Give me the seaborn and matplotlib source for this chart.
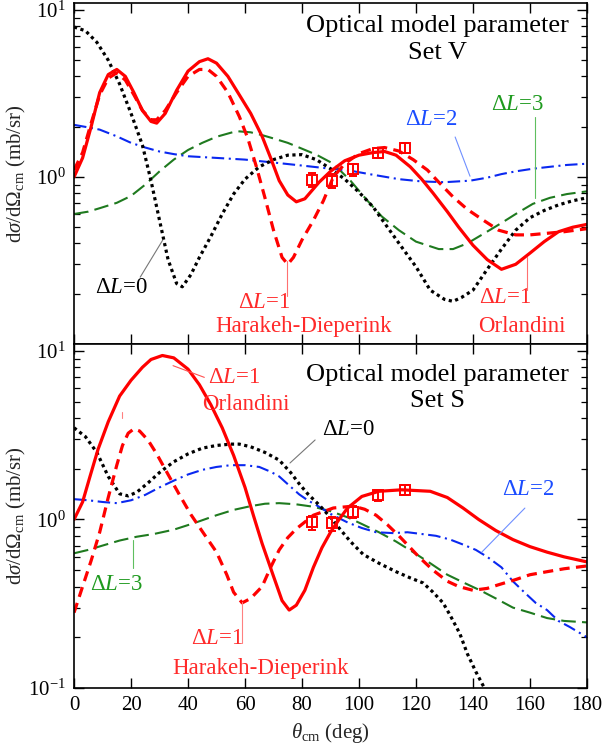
import numpy as np
import pandas as pd
import matplotlib
matplotlib.use("Agg")
import matplotlib.pyplot as plt
import matplotlib.ticker as mticker
import seaborn as sns

# ---------------- data ----------------
# Top panel: optical model parameter Set V
v_dl0_x = [0, 4, 8, 12, 16, 20, 24, 27, 30, 33, 36, 38, 41, 44, 48, 52, 56, 60, 65, 70, 75, 80, 85,
           90, 95, 100, 105, 110, 115, 120, 125, 130, 133, 136, 140, 145, 150, 155, 160, 165, 170, 175, 180]
v_dl0_y = [7.9, 7.5, 6.4, 5.0, 3.6, 2.4, 1.55, 0.95, 0.55, 0.32, 0.23, 0.22, 0.26, 0.33, 0.44, 0.6, 0.79, 0.97,
           1.15, 1.27, 1.35, 1.36, 1.27, 1.12, 0.97, 0.81, 0.66, 0.5, 0.38, 0.29, 0.21, 0.185, 0.18, 0.19,
           0.21, 0.28, 0.37, 0.48, 0.57, 0.63, 0.68, 0.72, 0.75]

v_orl_x = [0, 3, 6, 9, 12, 15, 18, 21, 24, 27, 29, 32, 36, 40, 44, 47, 50, 54, 58, 62, 66, 69, 72, 75, 78,
           81, 86, 90, 95, 100, 105, 109, 113, 118, 122, 126, 131, 135, 140, 145, 150, 155, 160, 165, 170, 175, 180]
v_orl_y = [1.0, 1.3, 2.0, 3.2, 4.1, 4.4, 4.0, 3.2, 2.5, 2.15, 2.1, 2.4, 3.3, 4.3, 4.9, 5.1, 4.8, 4.0, 3.1,
           2.4, 1.75, 1.3, 0.95, 0.78, 0.71, 0.74, 0.93, 1.08, 1.25, 1.35, 1.4, 1.42, 1.35, 1.15, 0.97, 0.8,
           0.62, 0.5, 0.39, 0.32, 0.28, 0.3, 0.35, 0.41, 0.47, 0.5, 0.52]

v_hd_x = [0, 3, 6, 9, 12, 15, 18, 21, 24, 27, 29, 32, 36, 40, 44, 47, 50, 54, 58, 61, 64, 67, 70, 73, 75,
          77, 80, 84, 87.5, 91, 95, 100, 105, 109, 114, 119, 124, 128, 133, 138, 143, 149, 155, 160, 166, 172, 180]
v_hd_y = [1.1, 1.4, 2.1, 3.1, 3.9, 4.2, 3.8, 3.1, 2.5, 2.2, 2.2, 2.5, 3.2, 4.0, 4.4, 4.4, 4.0, 3.2, 2.3,
          1.7, 1.15, 0.75, 0.48, 0.33, 0.3, 0.33, 0.42, 0.55, 0.72, 1.0, 1.2, 1.38, 1.48, 1.5, 1.43, 1.27,
          1.1, 0.93, 0.76, 0.64, 0.56, 0.48, 0.45, 0.45, 0.46, 0.47, 0.49]

v_dl2_x = [0, 5, 9, 15, 20, 25, 30, 35, 40, 50, 60, 70, 80, 90, 97, 105, 114, 122, 130, 139, 145, 150,
           155, 161, 167, 173, 180]
v_dl2_y = [2.05, 1.98, 1.92, 1.75, 1.6, 1.5, 1.42, 1.37, 1.33, 1.3, 1.27, 1.22, 1.17, 1.12, 1.09, 1.03,
           0.97, 0.94, 0.93, 0.95, 0.99, 1.04, 1.08, 1.12, 1.15, 1.18, 1.2]

v_dl3_x = [0, 5, 9, 15, 20, 25, 30, 35, 40, 45, 50, 57, 62, 66, 70, 75, 79, 85, 91, 97, 103, 108, 114,
           120, 128, 133, 138, 144, 150, 155, 161, 167, 173, 180]
v_dl3_y = [0.6, 0.62, 0.65, 0.7, 0.77, 0.9, 1.08, 1.27, 1.45, 1.6, 1.74, 1.88, 1.85, 1.78, 1.7, 1.6, 1.5,
           1.36, 1.2, 0.95, 0.72, 0.58, 0.48, 0.41, 0.37, 0.37, 0.4, 0.46, 0.53, 0.6, 0.69, 0.75, 0.79, 0.82]

# Bottom panel: optical model parameter Set S
s_dl0_x = [0, 4, 8, 12, 16, 19, 22, 26, 30, 35, 40, 45, 50, 55, 58, 62, 67, 72, 76, 79, 82, 86, 90, 93,
           97, 101.5, 107, 113, 118, 122.5, 126, 129.5, 132, 135.4, 138, 141, 144, 146]
s_dl0_y = [3.5, 3.1, 2.5, 1.8, 1.42, 1.38, 1.45, 1.65, 1.9, 2.2, 2.45, 2.65, 2.75, 2.8, 2.8, 2.7, 2.5,
           2.25, 1.9, 1.63, 1.42, 1.22, 1.03, 0.89, 0.74, 0.62, 0.55, 0.49, 0.45, 0.42, 0.37, 0.32, 0.27,
           0.21, 0.16, 0.125, 0.1, 0.085]

s_orl_x = [0, 3, 5.6, 8.4, 12, 16, 20, 24, 27, 31, 35, 40, 44, 48, 52, 56, 60, 63, 66, 70, 73, 75.5, 78,
           81, 84, 87, 90, 93, 96, 101, 107, 115, 125, 131, 136.5, 142, 148, 154, 160, 166, 172, 180]
s_orl_y = [1.0, 1.27, 1.8, 2.6, 3.8, 5.4, 6.7, 8.0, 8.9, 9.4, 9.1, 7.8, 6.3, 4.8, 3.5, 2.4, 1.55, 1.05,
           0.72, 0.46, 0.33, 0.29, 0.31, 0.38, 0.52, 0.68, 0.84, 1.0, 1.17, 1.37, 1.47, 1.5, 1.47, 1.35,
           1.17, 1.0, 0.86, 0.76, 0.69, 0.64, 0.6, 0.56]

s_hd_x = [0, 3, 6, 9, 12, 15, 17, 19, 21, 23, 26, 29, 33, 37, 41, 45, 50, 53.6, 56, 59, 62, 66, 69, 72,
          75, 78, 84, 91, 98, 102, 106, 110, 114, 118, 121, 126, 131, 135, 140, 145, 149, 155, 160, 166,
          172, 180]
s_hd_y = [0.28, 0.4, 0.57, 0.84, 1.35, 2.1, 2.75, 3.25, 3.45, 3.35, 2.95, 2.45, 1.85, 1.4, 1.07, 0.85,
          0.64, 0.47, 0.37, 0.32, 0.34, 0.4, 0.52, 0.66, 0.78, 0.88, 1.06, 1.17, 1.2, 1.15, 1.06, 0.93,
          0.8, 0.68, 0.6, 0.5, 0.43, 0.4, 0.38, 0.39, 0.41, 0.44, 0.47, 0.49, 0.51, 0.53]

s_dl2_x = [0, 5, 10, 15, 20, 25, 30, 35, 40, 45, 50, 55, 60, 65, 69, 72, 75, 79, 82, 86, 90, 96, 101, 106,
           112, 117, 122, 127, 132, 136.5, 141, 145, 150, 154, 158, 162, 166, 170, 174, 180]
s_dl2_y = [1.32, 1.3, 1.27, 1.25, 1.3, 1.4, 1.55, 1.7, 1.85, 1.97, 2.05, 2.1, 2.1, 2.05, 1.92, 1.8, 1.62,
           1.41, 1.3, 1.19, 1.08, 0.96, 0.89, 0.84, 0.83, 0.84, 0.82, 0.8, 0.76, 0.71, 0.66, 0.6, 0.52,
           0.43, 0.37, 0.32, 0.29, 0.25, 0.23, 0.2]

s_dl3_x = [0, 5, 10, 16, 22, 28, 35, 42, 50, 56, 62, 67, 72, 78, 84, 90, 96, 101, 107, 113, 119, 125, 131,
           137, 142.5, 148, 154, 160, 166, 172, 180]
s_dl3_y = [0.63, 0.66, 0.7, 0.75, 0.79, 0.82, 0.87, 0.95, 1.06, 1.14, 1.2, 1.24, 1.25, 1.23, 1.19, 1.12,
           1.03, 0.94, 0.84, 0.74, 0.64, 0.55, 0.47, 0.42, 0.38, 0.34, 0.3, 0.28, 0.26, 0.25, 0.245]

# Experimental points (same in both panels)
exp_x = [83.5, 90.5, 98, 106.5, 116]
exp_y = [0.96, 0.95, 1.11, 1.39, 1.5]
exp_err = [0.09, 0.09, 0.09, 0.1, 0.1]

x_ticks = [0, 20, 40, 60, 80, 100, 120, 140, 160, 180]

# ---------------- style ----------------
sns.set_theme(style="ticks")
plt.rcParams["font.family"] = ["Liberation Serif", "DejaVu Serif"]
plt.rcParams.update({
    "mathtext.fontset": "custom",
    "mathtext.rm": "Liberation Serif",
    "mathtext.it": "Liberation Serif:italic",
    "mathtext.bf": "Liberation Serif:bold",
    "xtick.direction": "in", "ytick.direction": "in",
    "xtick.top": True, "ytick.right": True,
    "xtick.major.size": 7, "ytick.major.size": 7,
    "ytick.minor.size": 4, "xtick.major.width": 1.0, "ytick.major.width": 1.0,
    "ytick.minor.width": 0.9,
    "axes.linewidth": 1.2, "axes.edgecolor": "black",
    "xtick.color": "black", "ytick.color": "black",
})

RED = "#ff0000"
BLUE = "#0a28f0"
GREEN = "#1f7a1f"
TRED = "#ff2a2a"
TBLUE = "#1a4cff"
TGREEN = "#1e9a1e"

fig = plt.figure(figsize=(6.02, 7.47), dpi=100)
ax1 = fig.add_axes([0.123, 0.5395, 0.852, 0.4565])
ax2 = fig.add_axes([0.123, 0.079, 0.852, 0.4605])

def draw(ax, dl0, orl, hd, dl2, dl3):
    curves = [
        (dl3, dict(color=GREEN, lw=1.5, dashes=(7, 3))),
        (dl2, dict(color=BLUE, lw=1.5, dashes=(6, 2.2, 1, 2.2))),
        (dl0, dict(color="black", lw=2.3, dashes=(1, 1.1))),
        (hd, dict(color=RED, lw=2.3, dashes=(3.2, 2))),
        (orl, dict(color=RED, lw=2.3)),
    ]
    for (xs, ys), st in curves:
        df = pd.DataFrame({"theta": xs, "xs": ys})
        dashes = st.pop("dashes", None)
        line_kw = {}
        if dashes is not None:
            line_kw["dashes"] = dashes
        sns.lineplot(data=df, x="theta", y="xs", ax=ax, sort=False, estimator=None,
                     color=st["color"], linewidth=st["lw"], **line_kw)
    ax.errorbar(exp_x, exp_y, yerr=exp_err, fmt="s", mfc="none", mec=RED, ecolor=RED,
                ms=6.5, mew=1.4, elinewidth=1.4, capsize=3, capthick=1.4, zorder=5)
    ax.set_yscale("log")
    ax.set_xlim(0, 180)
    ax.set_xticks(x_ticks)
    ax.yaxis.set_minor_locator(mticker.LogLocator(base=10, subs=np.arange(2, 10)))
    ax.yaxis.set_minor_formatter(mticker.NullFormatter())
    ax.tick_params(axis="both", which="major", labelsize=15, pad=6)
    ax.set_ylabel(r"d$\mathit{\sigma}$/d$\mathit{\Omega}_{\rm cm}$ (mb/sr)", fontsize=15, labelpad=6)

draw(ax1, (v_dl0_x, v_dl0_y), (v_orl_x, v_orl_y), (v_hd_x, v_hd_y), (v_dl2_x, v_dl2_y), (v_dl3_x, v_dl3_y))
draw(ax2, (s_dl0_x, s_dl0_y), (s_orl_x, s_orl_y), (s_hd_x, s_hd_y), (s_dl2_x, s_dl2_y), (s_dl3_x, s_dl3_y))

ax1.set_ylim(0.1, 11)
ax1.set_yticks([1, 10])
ax1.yaxis.set_minor_locator(mticker.LogLocator(base=10, subs=np.arange(2, 10)))
ax1.set_xlabel("")
ax1.tick_params(axis="x", labelbottom=False)

ax2.set_ylim(0.1, 11)
ax2.set_yticks([0.1, 1, 10])
ax2.yaxis.set_minor_locator(mticker.LogLocator(base=10, subs=np.arange(2, 10)))
ax2.set_xlabel(r"$\mathit{\theta}_{\rm cm}$ (deg)", fontsize=15, labelpad=4)

for ax in (ax1, ax2):
    ax.yaxis.set_major_formatter(mticker.LogFormatterSciNotation())
    ax.yaxis.set_label_coords(-0.089, 0.5)

LFS = 16.5

def label(ax, x, y, s, c, fs=LFS, **kw):
    ax.text(x, y, s, transform=ax.transAxes, color=c, fontsize=fs, ha="center", va="center", **kw)

def leader(ax, x0, y0, x1, y1, c):
    ax.plot([x0, x1], [y0, y1], transform=ax.transAxes, color=c, lw=0.8, zorder=6)

# Top panel annotations
label(ax1, 0.708, 0.893, "Optical model parameter\nSet V", "black", fs=19, linespacing=1.25)
label(ax1, 0.092, 0.167, r"Δ$L$=0", "black")
leader(ax1, 0.129, 0.196, 0.173, 0.305, "#777777")
label(ax1, 0.370, 0.122, r"Δ$L$=1", TRED)
leader(ax1, 0.415, 0.140, 0.415, 0.243, "#ff7070")
label(ax1, 0.448, 0.052, "Harakeh-Dieperink", TRED)
label(ax1, 0.840, 0.135, r"Δ$L$=1", TRED)
leader(ax1, 0.883, 0.158, 0.883, 0.255, "#ff7070")
label(ax1, 0.873, 0.050, "Orlandini", TRED)
label(ax1, 0.696, 0.657, r"Δ$L$=2", TBLUE)
leader(ax1, 0.743, 0.607, 0.772, 0.492, "#6f8fff")
label(ax1, 0.865, 0.703, r"Δ$L$=3", TGREEN)
leader(ax1, 0.899, 0.666, 0.899, 0.428, "#5fbf5f")

# Bottom panel annotations
label(ax2, 0.708, 0.872, "Optical model parameter\nSet S", "black", fs=19, linespacing=1.25)
label(ax2, 0.312, 0.903, r"Δ$L$=1", TRED)
leader(ax2, 0.193, 0.937, 0.254, 0.903, "#ff5050")
label(ax2, 0.335, 0.823, "Orlandini", TRED)
label(ax2, 0.534, 0.752, r"Δ$L$=0", "black")
leader(ax2, 0.421, 0.654, 0.470, 0.721, "#777777")
label(ax2, 0.885, 0.576, r"Δ$L$=2", TBLUE)
leader(ax2, 0.879, 0.523, 0.795, 0.395, "#6f8fff")
label(ax2, 0.082, 0.302, r"Δ$L$=3", TGREEN)
leader(ax2, 0.115, 0.430, 0.115, 0.349, "#5fbf5f")
label(ax2, 0.279, 0.145, r"Δ$L$=1", TRED)
leader(ax2, 0.327, 0.250, 0.327, 0.131, "#ff8080")
label(ax2, 0.363, 0.058, "Harakeh-Dieperink", TRED)
leader(ax2, 0.094, 0.802, 0.094, 0.784, "#ff8080")

fig.savefig("out.png", dpi=100)
